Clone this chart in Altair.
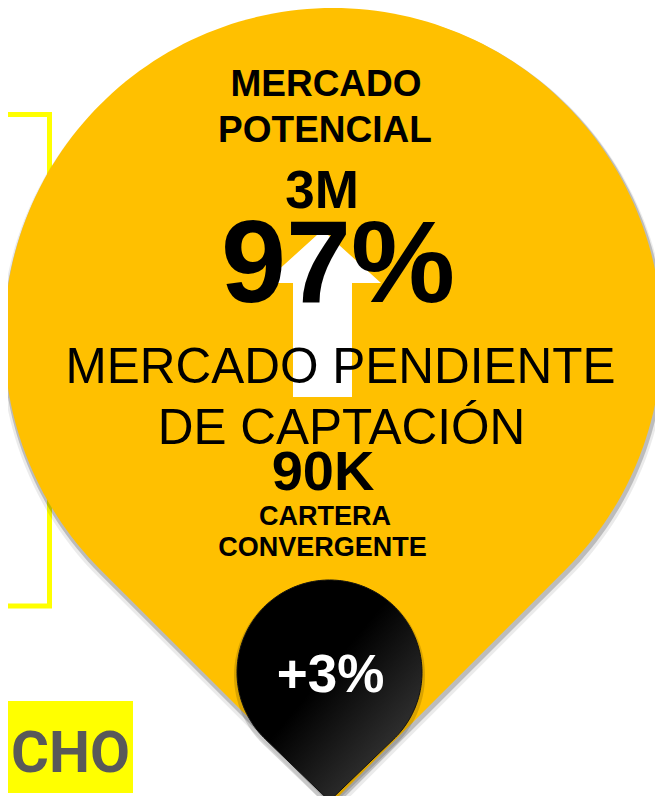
import math
import altair as alt
import pandas as pd

# ---------------- content ----------------
headline_lines = ["MERCADO", "POTENCIAL"]
potential_value = "3M"
pending_share = "97%"
pending_lines = ["MERCADO PENDIENTE", "DE CAPTACIÓN"]
portfolio_value = "90K"
portfolio_lines = ["CARTERA", "CONVERGENTE"]
growth_label = "+3%"
side_label = "CHO"

# ---------------- layout (page pixel coordinates) ----------------
W, H = 647, 788
X0, Y0 = 8, 8
YELLOW = "#FFC000"
BRIGHT = "#FFFF00"
FONT = "Liberation Sans, Arial, sans-serif"

xs = alt.Scale(domain=[X0, X0 + W], nice=False, zero=False)
ys = alt.Scale(domain=[Y0, Y0 + H], reverse=True, nice=False, zero=False)


def pin_path(tip_dist, n=180):
    """Unit circle + tangent lines down to a tip at (0, tip_dist)."""
    th = math.acos(1.0 / tip_dist)
    pts = []
    for i in range(n + 1):
        a = th + (2 * math.pi - 2 * th) * i / n
        pts.append((math.sin(a), math.cos(a)))
    return "M0,%.4f " % tip_dist + " ".join("L%.4f,%.4f" % p for p in pts) + " Z"


def pos(df):
    return dict(x=alt.X("x:Q", scale=xs, axis=None), y=alt.Y("y:Q", scale=ys, axis=None))


def point(cx, cy, path, size, **kw):
    df = pd.DataFrame({"x": [cx], "y": [cy]})
    return alt.Chart(df).mark_point(shape=path, size=size, filled=True, opacity=1, **kw).encode(**pos(df))


# yellow pin
Y_CX, Y_CY, Y_R, Y_TIP = 333, 337, 329, 802
y_path = pin_path((Y_TIP - Y_CY) / Y_R)
# black pin
B_CX, B_CY, B_R, B_TIP = 329.5, 672.5, 92.5, 801
b_path = pin_path((B_TIP - B_CY) / B_R)
# arrow (pixel-unit path, size 4 -> scale 1)
arrow_path = "M0,-53 L58.5,0 L29.5,0 L29.5,114 L-29.5,114 L-29.5,0 L-58.5,0 Z"

layers = []

# left outlined box
box = pd.DataFrame({"x": [-20], "x2": [49.5], "y": [114.5], "y2": [606]})
layers.append(
    alt.Chart(box).mark_rect(fill="#FFFFFF", stroke=BRIGHT, strokeWidth=5).encode(
        x=alt.X("x:Q", scale=xs, axis=None), x2="x2:Q",
        y=alt.Y("y:Q", scale=ys, axis=None), y2="y2:Q")
)

# side label box
side = pd.DataFrame({"x": [-10], "x2": [133], "y": [701], "y2": [793]})
layers.append(
    alt.Chart(side).mark_rect(fill=BRIGHT).encode(
        x=alt.X("x:Q", scale=xs, axis=None), x2="x2:Q",
        y=alt.Y("y:Q", scale=ys, axis=None), y2="y2:Q")
)
side_txt = pd.DataFrame({"x": [130], "y": [772], "t": [side_label]})
layers.append(
    alt.Chart(side_txt).mark_text(align="right", baseline="alphabetic", fontSize=58, fontWeight="bold",
                                  font="Liberation Sans Narrow, Arial Narrow, Roboto, sans-serif",
                                  color="#595959").encode(**pos(side_txt), text="t:N")
)

# yellow pin shadows + pin
layers.append(point(Y_CX + 1, Y_CY + 5, y_path, (2 * (Y_R + 4)) ** 2, fill="#000000", fillOpacity=0.08, strokeWidth=0))
layers.append(point(Y_CX + 1, Y_CY + 3, y_path, (2 * (Y_R + 2)) ** 2, fill="#000000", fillOpacity=0.2, strokeWidth=0))
layers.append(point(Y_CX, Y_CY, y_path, (2 * Y_R) ** 2, fill=YELLOW, strokeWidth=0))

# arrow
layers.append(point(322.5, 283, arrow_path, 4, fill="#FFFFFF", strokeWidth=0))

# texts
bold_rows = [
    (headline_lines[0], 326, 96, 37, "#000000"),
    (headline_lines[1], 325, 142, 37, "#000000"),
    (potential_value, 322, 208, 53, "#000000"),
    (pending_share, 338, 302, 117, "#000000"),
    (portfolio_value, 323, 490, 56, "#000000"),
    (portfolio_lines[0], 325, 525, 27, "#000000"),
    (portfolio_lines[1], 322.5, 556, 27, "#000000"),
]
bold_df = pd.DataFrame(bold_rows, columns=["t", "x", "y", "fs", "col"])
layers.append(
    alt.Chart(bold_df).mark_text(align="center", baseline="alphabetic", fontWeight="bold", font=FONT).encode(
        **pos(bold_df), text="t:N", size=alt.Size("fs:Q", scale=None, legend=None),
        color=alt.Color("col:N", scale=None))
)
reg_rows = [
    (pending_lines[0], 340.5, 383, 49.5),
    (pending_lines[1], 341.5, 443.5, 49.5),
]
reg_df = pd.DataFrame(reg_rows, columns=["t", "x", "y", "fs"])
layers.append(
    alt.Chart(reg_df).mark_text(align="center", baseline="alphabetic", fontWeight="normal", font=FONT,
                                color="#000000").encode(
        **pos(reg_df), text="t:N", size=alt.Size("fs:Q", scale=None, legend=None))
)

# black pin shadow + pin
layers.append(point(B_CX, B_CY + 3, b_path, (2 * (B_R + 3)) ** 2, fill="#000000", fillOpacity=0.15, strokeWidth=0))
grad = alt.Gradient(
    gradient="linear", x1=0, y1=0, x2=1, y2=1,
    stops=[alt.GradientStop(color="#000000", offset=0),
           alt.GradientStop(color="#000000", offset=0.45),
           alt.GradientStop(color="#4a4a4a", offset=1)])
layers.append(point(B_CX, B_CY, b_path, (2 * B_R) ** 2, fill=grad, stroke="#111111", strokeWidth=1))

g_df = pd.DataFrame({"x": [330.5], "y": [692], "t": [growth_label]})
layers.append(
    alt.Chart(g_df).mark_text(align="center", baseline="alphabetic", fontSize=53, fontWeight="bold", font=FONT,
                              color="#FFFFFF").encode(**pos(g_df), text="t:N")
)

chart = alt.layer(*layers).properties(
    width=W, height=H, padding=0, background="#FFFFFF",
    autosize=alt.AutoSizeParams(type="none"),
).configure_view(stroke=None)
chart.save("out.html", embed_options={"renderer": "svg", "actions": False})
